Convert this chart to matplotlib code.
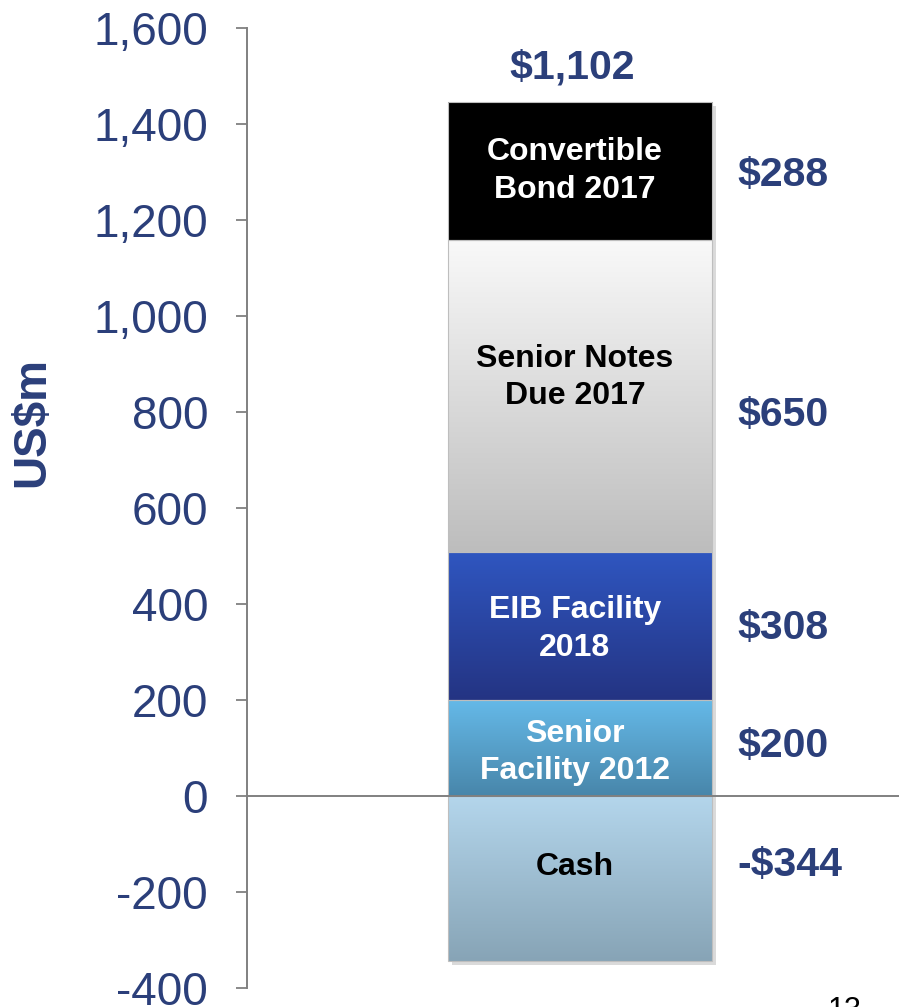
import matplotlib
matplotlib.use('Agg')
import matplotlib.pyplot as plt
from matplotlib.colors import LinearSegmentedColormap
from matplotlib.ticker import FuncFormatter
import numpy as np

plt.rcParams['font.family'] = ['Liberation Sans', 'DejaVu Sans']

# data
segments = ['Cash', 'Senior\nFacility 2012', 'EIB Facility\n2018',
            'Senior Notes\nDue 2017', 'Convertible\nBond 2017']
values = [-344, 200, 308, 650, 288]
value_labels = ['-$344', '$200', '$308', '$650', '$288']
total_label = '$1,102'
yticks = [-400, -200, 0, 200, 400, 600, 800, 1000, 1200, 1400, 1600]

# gradient colours (top, bottom) and text colours
grad = [('#B4D6EC', '#87A4B6'),
        ('#65B9E8', '#4886AA'),
        ('#2F56C0', '#243483'),
        ('#F9F9F9', '#BDBDBD'),
        ('#000000', '#000000')]
text_col = ['black', 'white', 'white', 'black', 'white']
# where labels sit within each segment (fraction of its height)
label_pos = [0.43, 0.45, 0.48, 0.56, 0.50]
value_pos = [0.42, 0.52, 0.49, 0.44, 0.47]
navy = '#2B3F7A'

fig = plt.figure(figsize=(8.99, 10.07), dpi=100)
ax = fig.add_axes([247 / 899, 1 - 988 / 1007, 1 - 247 / 899, (988 - 28) / 1007])

xc = 0.511
bw = 0.405

# stacking: negative cash hangs below zero, the rest stacks up from zero
bottoms = []
run = 0
for v in values:
    if v < 0:
        bottoms.append(0)
    else:
        bottoms.append(run)
        run += v
top = run

# soft drop shadow
ax.bar(xc + 0.006, top - values[0], bottom=values[0] - 8, width=bw,
       color='#DADADA', zorder=1, linewidth=0)

bars = ax.bar([xc] * len(values), values, bottom=bottoms, width=bw,
              color='none', edgecolor='#BEBEBE', linewidth=0.8, zorder=3)

for b, (ctop, cbot) in zip(bars, grad):
    cmap = LinearSegmentedColormap.from_list('g', [cbot, ctop])
    y0, y1 = b.get_y(), b.get_y() + b.get_height()
    lo, hi = min(y0, y1), max(y0, y1)
    g = np.linspace(1, 0, 256).reshape(-1, 1)
    im = ax.imshow(g, extent=[b.get_x(), b.get_x() + b.get_width(), lo, hi],
                   aspect='auto', cmap=cmap, vmin=0, vmax=1, zorder=2)
    im.set_clip_path(b)

for i, (name, v, b0) in enumerate(zip(segments, values, bottoms)):
    ax.text(xc - 0.008, b0 + v * label_pos[i], name, ha='center', va='center',
            color=text_col[i], fontsize=23, fontweight='bold',
            linespacing=1.32, zorder=5)
    ax.text(0.7515, b0 + v * value_pos[i], value_labels[i], ha='left', va='center',
            color=navy, fontsize=29.5, fontweight='bold', zorder=5)

ax.text(xc - 0.012, top + 72, total_label, ha='center', va='center',
        color=navy, fontsize=29.5, fontweight='bold', zorder=5)

ax.axhline(0, color='#808080', linewidth=1.4, zorder=6)

ax.set_xlim(0, 1)
ax.set_ylim(-400, 1600)
ax.set_yticks(yticks)
ax.yaxis.set_major_formatter(FuncFormatter(lambda v, p: '{:,.0f}'.format(v)))
ax.tick_params(axis='y', length=8, width=1.3, color='#808080',
               labelsize=33, labelcolor=navy, pad=20)
ax.set_xticks([])
for s in ['top', 'right', 'bottom']:
    ax.spines[s].set_visible(False)
ax.spines['left'].set_color('#808080')
ax.spines['left'].set_linewidth(1.4)

fig.text(32 / 899, 1 - 422 / 1007, 'US$m', rotation=90, ha='center', va='center',
         color=navy, fontsize=33, fontweight='bold')

fig.text(845 / 899, 1 - 996 / 1007, '13', ha='center', va='top',
         color='black', fontsize=22)

fig.savefig('out.png', dpi=100)
